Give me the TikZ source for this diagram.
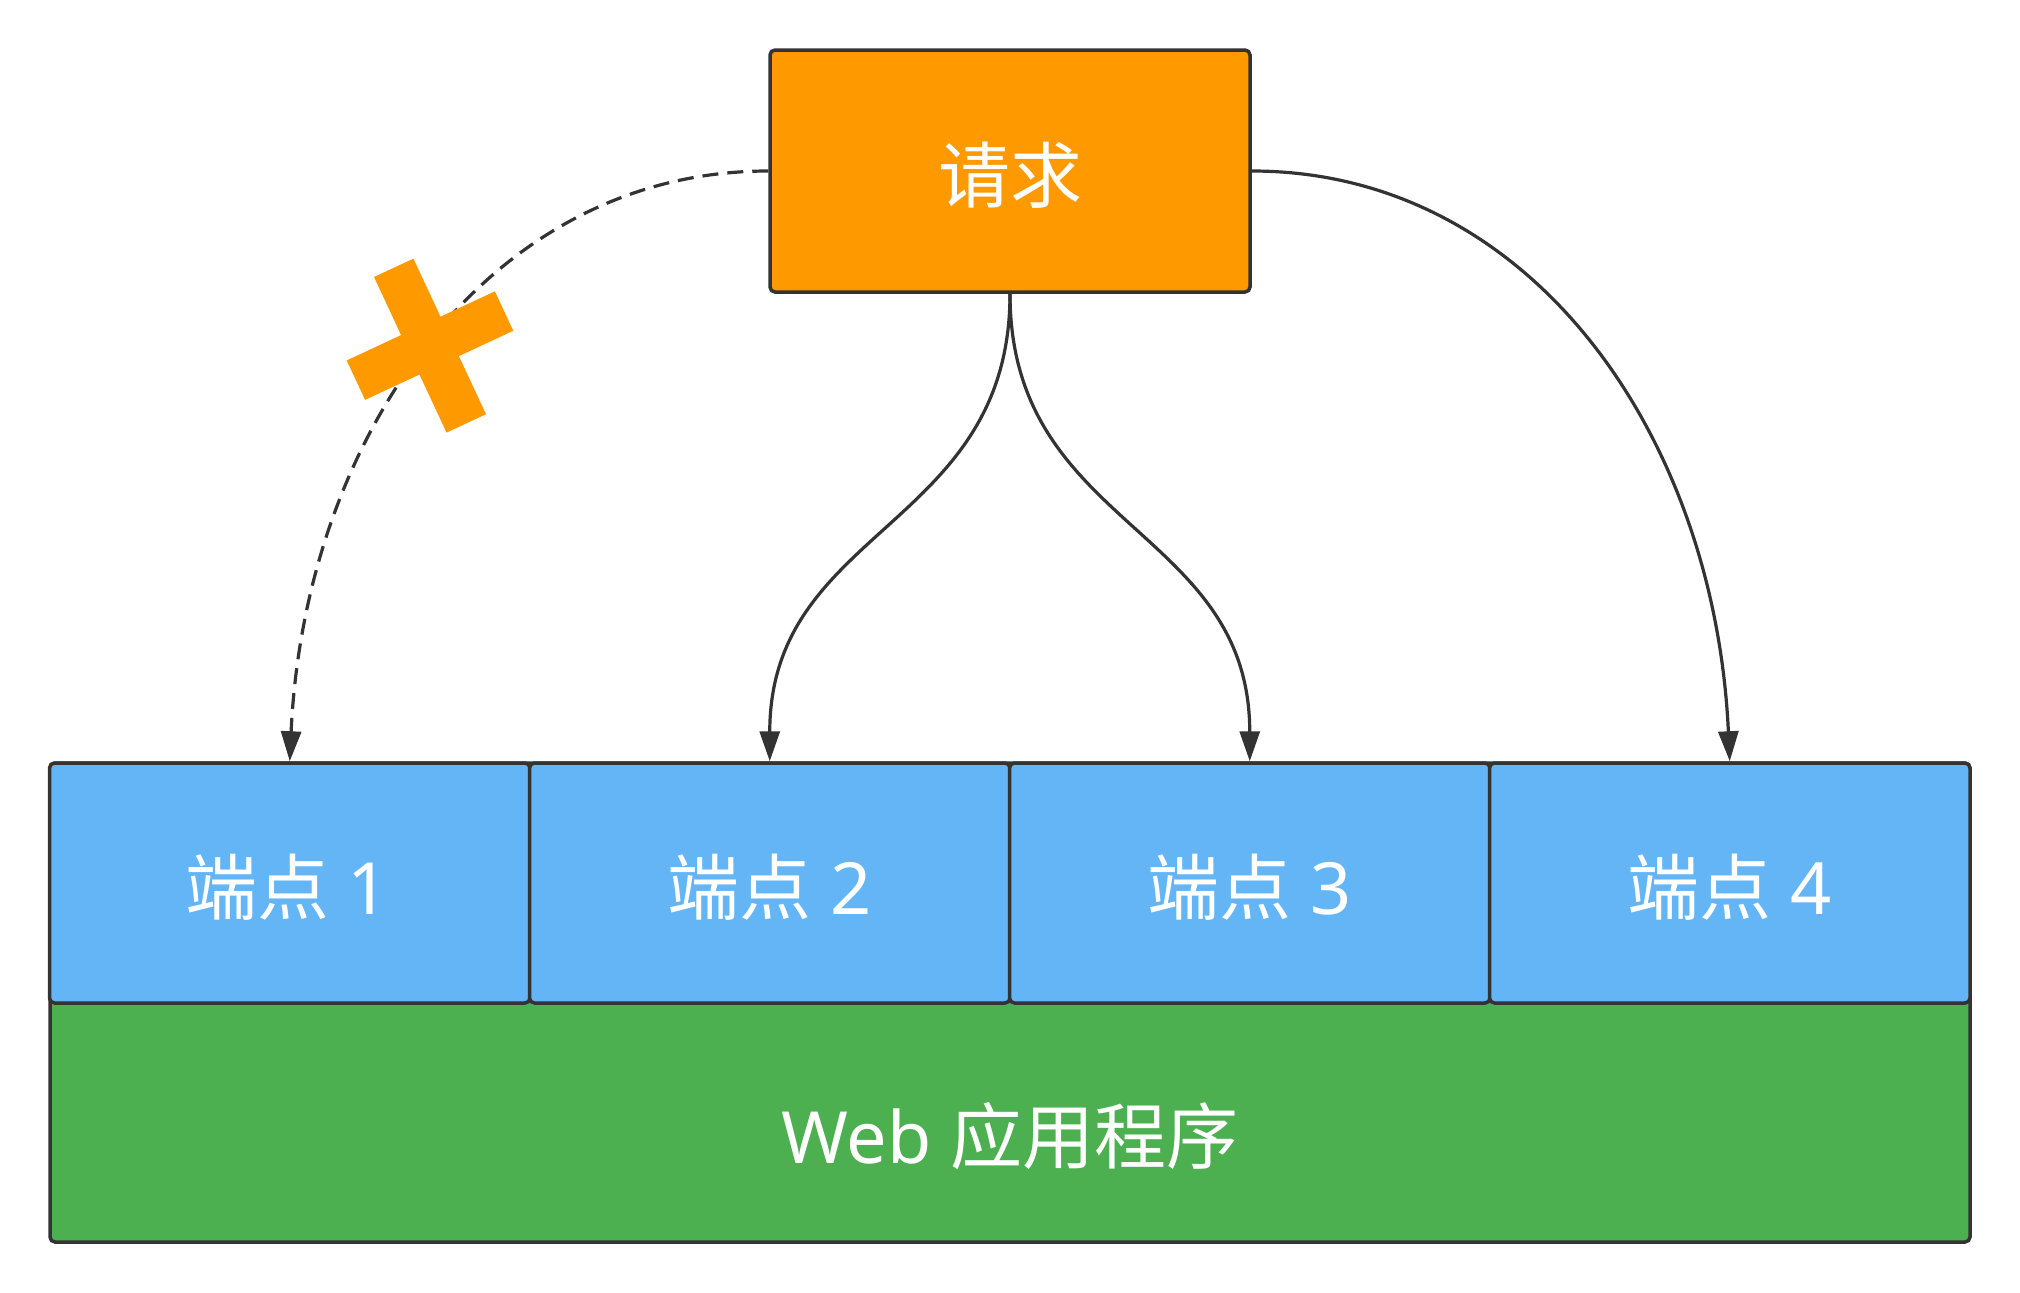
\documentclass[tikz,border=0pt]{standalone}
\usepackage{fontspec}
\setmainfont{Noto Sans}
\newfontfamily\cjk{Noto Sans CJK SC}
\usetikzlibrary{arrows.meta,calc}
\definecolor{reqorange}{HTML}{FF9900}
\definecolor{epblue}{HTML}{64B5F6}
\definecolor{appgreen}{HTML}{4CAF50}
\definecolor{ink}{HTML}{333333}
\begin{document}
\begin{tikzpicture}[x=0.5pt,y=-0.5pt,
  box/.style={draw=ink, line width=1.75pt, rounded corners=2.5pt, inner sep=0pt},
  label/.style={inner sep=0pt, text=white, font=\fontsize{36pt}{43pt}\selectfont},
  conn/.style={draw=ink, line width=1.6pt, -{Triangle[length=15pt,width=10pt]}},
  crossbar/.style={fill=reqorange, inner sep=0pt, minimum height=21.75pt}]
\useasboundingbox (0,0) rectangle (2020,1292);
% boxes
\node[box, fill=reqorange, minimum width=240pt, minimum height=121pt] (req) at (1010,171) {};
\node[box, fill=appgreen, minimum width=960pt, minimum height=239.5pt] (app) at (1010,1002.5) {};
\node[box, fill=epblue, minimum width=240.25pt, minimum height=120pt] (e1) at (289.75,883) {};
\node[box, fill=epblue, minimum width=240.25pt, minimum height=120pt] (e2) at (769.75,883) {};
\node[box, fill=epblue, minimum width=240.25pt, minimum height=120pt] (e3) at (1249.75,883) {};
\node[box, fill=epblue, minimum width=240.25pt, minimum height=120pt] (e4) at (1729.75,883) {};
% texts
\node[label] (reqtext) at (1010,175) {{\cjk 请求}};
\node[label] (e1text) at (287,887) {{\cjk 端点} 1};
\node[label] (e2text) at (769.75,887) {{\cjk 端点} 2};
\node[label] (e3text) at (1249.75,887) {{\cjk 端点} 3};
\node[label] (e4text) at (1729.75,887) {{\cjk 端点} 4};
\node[label] (apptext) at (1010,1136) {Web {\cjk 应用程序}};
% connectors
\draw[conn, dash pattern=on 8pt off 4.5pt] (req.west) .. controls ($(req.west)+(-280,0)$) and ($(e1.north)+(15,-325)$) .. (e1.north);
\draw[conn] (req.south) .. controls ($(req.south)+(0,235)$) and ($(e2.north)+(0,-235)$) .. (e2.north);
\draw[conn] (req.south) .. controls ($(req.south)+(0,235)$) and ($(e3.north)+(0,-235)$) .. (e3.north);
\draw[conn] (req.east) .. controls ($(req.east)+(280,0)$) and ($(e4.north)+(-15,-325)$) .. (e4.north);
% cross mark
\node[crossbar, minimum width=85.85pt, rotate=115] (xa) at (430,345.6) {};
\node[crossbar, minimum width=81.75pt, rotate=25] (xb) at (430,345.6) {};
\end{tikzpicture}
\end{document}
